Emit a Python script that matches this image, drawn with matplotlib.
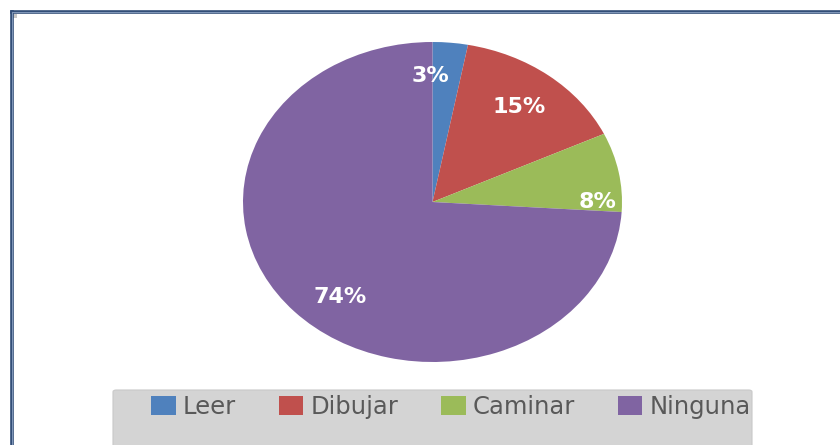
import matplotlib.pyplot as plt
from matplotlib.patches import FancyBboxPatch, Rectangle
from matplotlib.lines import Line2D

categories = ['Leer', 'Dibujar', 'Caminar', 'Ninguna']
shares = [3, 15, 8, 74]
colors = ['#4F81BD', '#C0504D', '#9BBB59', '#8064A2']

# where the percent labels sit inside the (elliptic) pie, in axes data units
label_xy = [(-0.01, 0.79), (0.456, 0.594), (0.873, 0.0), (-0.488, -0.594)]

fig = plt.figure(figsize=(8.4, 4.45), dpi=100)
fig.patch.set_facecolor('white')

# chart frame (only left and top edges are visible in the crop)
for lw, c in [(2.6, '#2E4A75'), (0.8, '#7F96B8')]:
    fig.add_artist(Line2D([11.5 / 840, 11.5 / 840], [0, 1 - 11.5 / 445],
                          transform=fig.transFigure, color=c, lw=lw))
    fig.add_artist(Line2D([11.5 / 840, 1], [1 - 11.5 / 445, 1 - 11.5 / 445],
                          transform=fig.transFigure, color=c, lw=lw))
fig.add_artist(Rectangle((13 / 840, 1 - 18 / 445), 4 / 840, 4 / 445,
                         transform=fig.transFigure, color='#C8C8C8', lw=0))

ax = fig.add_axes([243 / 840, 83 / 445, 379 / 840, 320 / 445])
wedges, texts, autotexts = ax.pie(shares, colors=colors, startangle=90,
                                  counterclock=False, autopct='%1.0f%%',
                                  pctdistance=0.75,
                                  wedgeprops=dict(linewidth=0),
                                  textprops=dict(color='white', fontsize=16,
                                                 fontweight='bold'))
ax.set_aspect('auto')
ax.set_xlim(-1, 1)
ax.set_ylim(-1, 1)
for t, xy in zip(autotexts, label_xy):
    t.set_position(xy)

# legend band
fig.add_artist(FancyBboxPatch((113 / 840, -0.05), 639 / 840, 0.05 + 55 / 445,
                              boxstyle='round,pad=0,rounding_size=0.004',
                              transform=fig.transFigure, facecolor='#D4D4D4',
                              edgecolor='#C8C8C8', lw=0.8))
leg = fig.legend(wedges, categories, loc='center', ncol=4,
                 bbox_to_anchor=(451 / 840, 1 - 407 / 445), frameon=False,
                 fontsize=17.5, handlelength=1.0, handleheight=0.87,
                 handletextpad=0.29, columnspacing=1.77)
for t in leg.get_texts():
    t.set_color('#595959')

fig.savefig('out.png', dpi=100)
